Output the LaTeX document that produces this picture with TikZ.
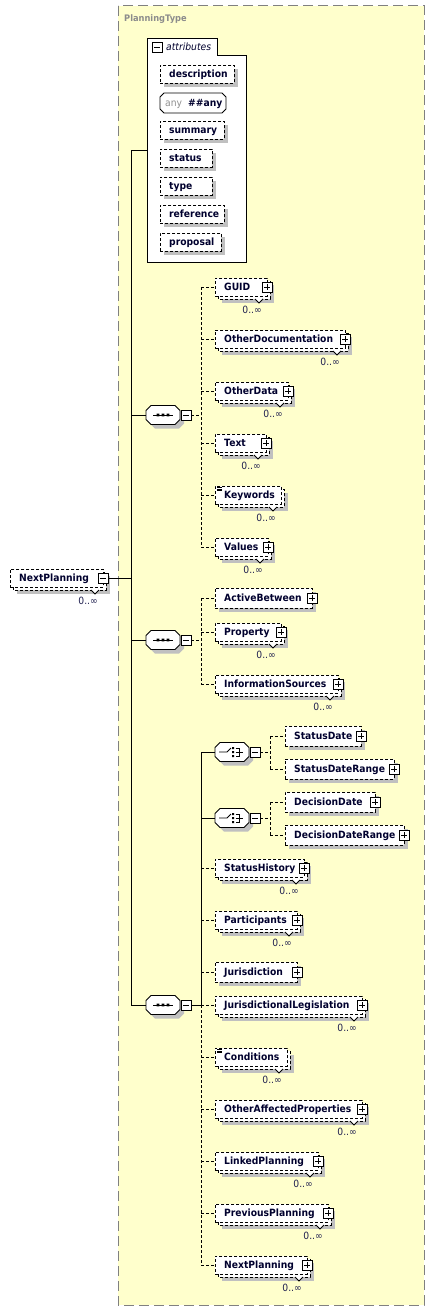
\documentclass[tikz,border=0pt]{standalone}
\usepackage{fontspec}
\setmainfont{DejaVu Sans}
\newfontfamily\nfont[FakeStretch=0.92]{DejaVu Sans}
\definecolor{bgy}{HTML}{FFFFCC}
\definecolor{shad}{HTML}{C0C0C0}
\definecolor{outerc}{HTML}{808080}
\definecolor{ptgray}{HTML}{8C8C8C}
\definecolor{navy}{HTML}{00002E}
\definecolor{lbl}{HTML}{202050}
\definecolor{anygray}{HTML}{909090}
\tikzset{
  thin1/.style={line width=0.9pt},
  dpat/.style={dash pattern=on 3pt off 2pt},
  elbox/.style={draw=black, thin1, dpat, fill=white, inner sep=0pt, anchor=north west},
  eltext/.style={font=\nfont\bfseries\fontsize{10}{12}\selectfont, text=navy, inner sep=0pt, anchor=base west},
  multtext/.style={font=\nfont\fontsize{10}{12}\selectfont, text=lbl, inner sep=0pt, anchor=base east},
  solidc/.style={draw=black, thin1},
  dashc/.style={draw=black, thin1, dpat},
  ptype/.style={font=\nfont\bfseries\fontsize{9}{11}\selectfont, text=ptgray, inner sep=0pt, anchor=base west},
  hub/.style={inner sep=0pt, minimum width=34pt, minimum height=19pt},
}
\newcommand{\btnplus}[2]{%
  \draw[thin1, fill=white] ({#1-5},{#2-5}) rectangle ({#1+5},{#2+5});
  \draw[thin1] ({#1-3},#2) -- ({#1+3},#2) (#1,{#2-3}) -- (#1,{#2+3});}
\newcommand{\btnminus}[2]{%
  \draw[thin1, fill=white] ({#1-5},{#2-5}) rectangle ({#1+5},{#2+5});
  \draw[thin1] ({#1-3},#2) -- ({#1+3},#2);}
\newcommand{\elS}[5]{%
  \fill[shad] ({#3+4},{#4-6}) rectangle ({#5+4},{#4+14});
  \node[elbox, minimum width={(#5-#3)*1pt}, minimum height=20pt] (#1) at (#3,{#4-10}) {};
  \node[eltext] at ({#3+9},{#4+3.8}) {#2};
  \btnplus{#5}{#4}}
\newcommand{\elMcore}[5]{%
  \fill[shad] ({#3+7},{#4-2}) rectangle ({#5+7},{#4+16});
  \draw[thin1, dpat, fill=white] ({#3+3},{#4-6}) rectangle ({#5+3},{#4+12});
  \draw[thin1, fill=white] ({#5-12},{#4+12}) -- ({#5-8},{#4+16}) -- ({#5-4},{#4+12});
  \node[elbox, minimum width={(#5-#3)*1pt}, minimum height=18pt] (#1) at (#3,{#4-9}) {};
  \node[eltext] at ({#3+9},{#4+3.8}) {#2};
  \node[multtext] at ({#5-5},{#4+26.5}) {0..∞};}
\newcommand{\elM}[5]{\elMcore{#1}{#2}{#3}{#4}{#5}\btnplus{#5}{#4}}
\newcommand{\elMi}[5]{\elMcore{#1}{#2}{#3}{#4}{#5}%
  \draw[line width=0.6pt] ({#3+2},{#4-7.5}) -- ({#3+7},{#4-7.5}) ({#3+2},{#4-6}) -- ({#3+7},{#4-6}) ({#3+2},{#4-4.5}) -- ({#3+7},{#4-4.5});}
\newcommand{\attrib}[4]{%
  \fill[shad] (164,{#3-5}) rectangle ({#4+4},{#3+13});
  \node[elbox, minimum width={(#4-160)*1pt}, minimum height=18pt] (#1) at (160,{#3-9}) {};
  \node[eltext] at (169,{#3+3.8}) {#2};}
\newcommand{\hexshape}{%
  \fill[shad] (-13,-0.5) -- (-8,-5.5) -- (16,-5.5) -- (21,-0.5) -- (21,8.5) -- (16,13.5) -- (-8,13.5) -- (-13,8.5) -- cycle;
  \draw[thin1, fill=white] (-17,-4.5) -- (-12,-9.5) -- (12,-9.5) -- (17,-4.5) -- (17,4.5) -- (12,9.5) -- (-12,9.5) -- (-17,4.5) -- cycle;}
\newcommand{\seqc}[3]{%
  \begin{scope}[shift={(#2,#3)}]
   \hexshape
   \draw[thin1] (-10,0) -- (10,0);
   \fill (-6.3,-1.3) rectangle (-3.7,1.3) (-1.3,-1.3) rectangle (1.3,1.3) (3.7,-1.3) rectangle (6.3,1.3);
   \btnminus{23}{0}
  \end{scope}
  \node[hub] (#1) at (#2,#3) {};
  \coordinate (#1o) at ({#2+28},#3);}
\newcommand{\chc}[3]{%
  \begin{scope}[shift={(#2,#3)}]
   \hexshape
   \draw[thin1] (-13,0) -- (-5,0) -- (-1,-4);
   \fill (0,-5) rectangle (2,-3) (0,-1) rectangle (2,1) (0,3) rectangle (2,5);
   \draw[thin1] (3.5,-4) -- (7,-4) -- (7,4) -- (3.5,4) (3.5,0) -- (10.5,0);
   \btnminus{23}{0}
  \end{scope}
  \node[hub] (#1) at (#2,#3) {};
  \coordinate (#1o) at ({#2+28},#3);}
\begin{document}
\begin{tikzpicture}[x=1pt,y=-1pt]
\useasboundingbox (0,0) rectangle (434,1311);
\fill[white] (0,0) rectangle (434,1311);
\draw[outerc, line width=1pt, dash pattern=on 10pt off 5pt, fill=bgy] (118,6) rectangle (424,1305);
\node[ptype] (ptitle) at (124,22) {PlanningType};

% attributes
\draw[thin1, fill=white] (147,38) -- (217,38) -- (217,55) -- (246,55) -- (246,262) -- (147,262) -- cycle;
\node[inner sep=0pt, minimum width=99pt, minimum height=224pt, anchor=north west] (attr) at (147,38) {};
\btnminus{157}{47}
\node[font=\nfont\itshape\fontsize{10}{12}\selectfont, anchor=base west, inner sep=0pt, text=navy] (attrtitle) at (166,51) {attributes};
\attrib{adesc}{description}{74}{234}
\draw[thin1, fill=white] (160,97) -- (164,93) -- (222,93) -- (226,97) -- (226,109) -- (222,113) -- (164,113) -- (160,109) -- cycle;
\node[inner sep=0pt, minimum width=66pt, minimum height=20pt] (aany) at (193,103) {};
\node[font=\nfont\fontsize{10}{12}\selectfont, text=anygray, anchor=base west, inner sep=0pt] at (165,106.8) {any};
\node[eltext] at (188,106.8) {\#\#any};
\attrib{asum}{summary}{130}{224}
\attrib{astat}{status}{158}{212}
\attrib{atype}{type}{186}{212}
\attrib{aref}{reference}{214}{224}
\attrib{aprop}{proposal}{242}{221}

% root
\elMcore{root}{NextPlanning}{10}{578}{103}
\btnminus{103}{578}
\coordinate (rooto) at (108,578);

% compositors
\seqc{s1}{163}{415}
\seqc{s2}{163}{640}
\seqc{s3}{163}{1005}
\chc{c1}{232}{752}
\chc{c2}{232}{818}

% sequence 1 children
\elM{guid}{GUID}{215}{287}{267}
\elM{otherdoc}{OtherDocumentation}{215}{339}{345}
\elM{otherdata}{OtherData}{215}{391}{288}
\elM{text}{Text}{215}{443}{266}
\elMi{keywords}{Keywords}{215}{495}{281}
\elM{values}{Values}{215}{547}{268}

% sequence 2 children
\elS{activeb}{ActiveBetween}{215}{598}{312}
\elM{property}{Property}{215}{632}{281}
\elM{infosrc}{InformationSources}{215}{684}{338}

% choices
\elS{sdate}{StatusDate}{285}{736}{361}
\elS{sdrange}{StatusDateRange}{285}{769}{394}
\elS{ddate}{DecisionDate}{285}{802}{375}
\elS{ddrange}{DecisionDateRange}{285}{835}{404}

% sequence 3 children
\elM{shist}{StatusHistory}{215}{868}{304}
\elM{partic}{Participants}{215}{920}{297}
\elS{juris}{Jurisdiction}{215}{972}{297}
\elM{jurleg}{JurisdictionalLegislation}{215}{1005}{362}
\elMi{cond}{Conditions}{215}{1057}{287}
\elM{otheraff}{OtherAffectedProperties}{215}{1109}{362}
\elM{linked}{LinkedPlanning}{215}{1161}{318}
\elM{prevp}{PreviousPlanning}{215}{1213}{328}
\elM{nextp}{NextPlanning}{215}{1265}{307}

% main connectors
\coordinate (bus0) at (131,578);
\draw[solidc] (bus0 |- attr.west) -- (attr.west);
\draw[solidc] (bus0 |- attr.west) -- (bus0 |- s3.west);
\draw[solidc] (rooto) -- (bus0);
\draw[solidc] (bus0 |- s1.west) -- (s1.west);
\draw[solidc] (bus0 |- s2.west) -- (s2.west);
\draw[solidc] (bus0 |- s3.west) -- (s3.west);

% seq1 connectors
\coordinate (b1) at (201,415);
\draw[dashc] (s1o) -- (b1);
\draw[dashc] (b1 |- guid.west) -- (b1 |- values.west);
\foreach \n in {guid,otherdoc,otherdata,text,keywords,values}
  \draw[dashc] (b1 |- \n.west) -- (\n.west);

% seq2 connectors
\coordinate (b2) at (201,640);
\draw[dashc] (s2o) -- (b2);
\draw[dashc] (b2 |- activeb.west) -- (b2 |- infosrc.west);
\foreach \n in {activeb,property,infosrc}
  \draw[dashc] (b2 |- \n.west) -- (\n.west);

% seq3 connectors
\coordinate (b3) at (201,1005);
\draw[solidc] (s3o) -- (b3);
\draw[solidc] (b3 |- c1.west) -- (b3);
\draw[dashc] (b3) -- (b3 |- nextp.west);
\draw[solidc] (b3 |- c1.west) -- (c1.west);
\draw[solidc] (b3 |- c2.west) -- (c2.west);
\foreach \n in {shist,partic,juris,jurleg,cond,otheraff,linked,prevp,nextp}
  \draw[dashc] (b3 |- \n.west) -- (\n.west);

% choice connectors
\coordinate (bc1) at (270,752);
\draw[dashc] (c1o) -- (bc1);
\draw[dashc] (bc1 |- sdate.west) -- (bc1 |- sdrange.west);
\draw[dashc] (bc1 |- sdate.west) -- (sdate.west);
\draw[dashc] (bc1 |- sdrange.west) -- (sdrange.west);
\coordinate (bc2) at (270,818);
\draw[dashc] (c2o) -- (bc2);
\draw[dashc] (bc2 |- ddate.west) -- (bc2 |- ddrange.west);
\draw[dashc] (bc2 |- ddate.west) -- (ddate.west);
\draw[dashc] (bc2 |- ddrange.west) -- (ddrange.west);
\end{tikzpicture}
\end{document}
